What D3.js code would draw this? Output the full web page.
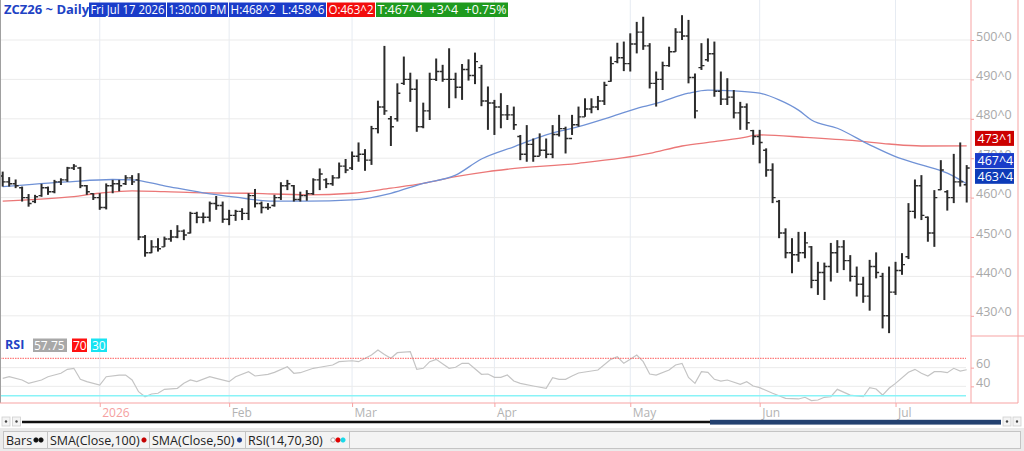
<!DOCTYPE html>
<html>
<head>
<meta charset="utf-8">
<script src="https://cdn.jsdelivr.net/npm/d3@7"></script>
<style>
  body { margin: 0; background: #fff; }
  svg { display: block; font-family: "Open Sans", "Noto Sans", sans-serif; }
</style>
</head>
<body>
<div id="chart"></div>
<script>
// ZCZ26 daily bars with SMA(100), SMA(50) and RSI(14)

const width = 1024, height = 451;

// =============================
// Data
// =============================
const holidays = ["2025-12-25", "2026-01-01", "2026-01-19", "2026-02-16",
                  "2026-04-03", "2026-05-25", "2026-06-19", "2026-07-03"];
const monthLabels = ["2026", "Feb", "Mar", "Apr", "May", "Jun", "Jul"];
const priceTicks = [430, 440, 450, 460, 470, 480, 490, 500];
const rsiTicks = [40, 60];

const opens = [
  465.5, 464.0, 463.5, 462.5, 460.0, 459.0, 460.5, 462.5, 461.5, 464.0,
  464.5, 467.5, 467.5, 463.0, 461.0, 460.0, 457.5, 463.0, 463.5, 463.5,
  465.0, 464.5, 450.0, 446.0, 447.5, 447.5, 449.5, 450.0, 451.5, 451.0,
  456.0, 455.0, 455.0, 458.5, 458.0, 454.5, 455.5, 456.5, 456.0, 460.5,
  458.5, 457.5, 458.0, 460.0, 463.0, 463.0, 459.5, 460.5, 461.0, 464.5,
  464.5, 463.5, 465.0, 468.0, 467.5, 470.5, 471.0, 469.5, 477.5, 483.0,
  480.0, 480.0, 489.0, 490.0, 487.5, 478.0, 482.0, 490.0, 492.0, 490.0,
  490.0, 488.0, 492.5, 491.0, 493.0, 484.5, 484.0, 483.0, 481.0, 481.0,
  475.5, 471.0, 473.5, 470.5, 472.0, 471.0, 476.0, 477.5, 475.0, 478.5,
  480.5, 482.5, 483.0, 484.5, 489.5, 494.5, 495.5, 494.0, 499.0, 502.0,
  498.5, 489.0, 490.0, 493.5, 497.0, 502.0, 501.0, 490.5, 493.0, 495.0,
  496.5, 487.0, 485.0, 485.5, 481.5, 483.0, 477.0, 475.5, 472.0, 467.0,
  459.0, 451.0, 446.0, 445.5, 446.0, 447.5, 439.0, 441.0, 442.5, 446.0,
  447.5, 444.0, 440.0, 438.0, 435.0, 442.5, 440.0, 430.0, 436.0, 441.5,
  445.0, 456.5, 463.0, 455.0, 451.0, 462.0, 461.5, 460.0, 464.0, 463.25
];
const highs = [
  466.6, 465.2, 464.6, 462.8, 460.9, 460.7, 463.5, 462.8, 464.5, 464.9,
  467.8, 468.5, 467.8, 463.2, 461.1, 461.1, 463.6, 464.5, 464.5, 465.7,
  465.7, 466.2, 450.5, 449.2, 449.7, 450.1, 451.8, 453.0, 451.9, 456.4,
  456.4, 456.2, 459.0, 460.4, 459.0, 456.9, 456.9, 457.3, 461.1, 462.2,
  459.0, 458.6, 460.7, 463.9, 464.5, 463.2, 461.5, 461.9, 464.9, 467.4,
  464.9, 465.7, 468.9, 469.8, 471.7, 474.0, 472.3, 478.2, 484.6, 498.5,
  480.7, 489.0, 495.8, 491.7, 490.0, 484.1, 491.7, 495.3, 493.7, 497.9,
  491.7, 493.9, 495.1, 496.8, 493.7, 488.2, 484.8, 486.5, 483.5, 483.1,
  475.9, 478.4, 475.0, 476.3, 475.0, 478.4, 481.0, 478.0, 481.0, 483.1,
  485.2, 485.2, 485.8, 489.4, 495.8, 499.3, 499.6, 501.7, 504.6, 505.9,
  499.2, 492.0, 494.5, 498.3, 503.0, 506.3, 505.1, 491.5, 499.2, 500.4,
  499.6, 492.0, 490.3, 487.3, 484.3, 483.9, 477.2, 477.2, 472.5, 468.7,
  459.4, 452.2, 449.7, 451.3, 451.3, 447.7, 443.7, 443.5, 448.5, 449.2,
  449.2, 445.4, 442.5, 439.9, 444.2, 446.1, 440.9, 442.5, 443.7, 445.9,
  458.6, 464.6, 465.7, 455.2, 461.9, 469.5, 461.9, 471.1, 474.0, 468.25
];
const lows = [
  462.8, 462.8, 462.4, 459.0, 457.7, 458.6, 460.2, 460.7, 461.1, 463.2,
  464.0, 467.0, 462.4, 460.7, 459.4, 456.9, 457.0, 461.1, 461.6, 463.2,
  463.2, 449.2, 445.0, 445.9, 446.3, 447.5, 448.8, 449.7, 449.2, 450.9,
  453.5, 453.5, 453.9, 456.9, 453.6, 453.0, 454.1, 454.3, 454.3, 457.5,
  456.0, 456.9, 457.7, 459.4, 461.9, 459.0, 459.0, 459.2, 460.7, 461.9,
  462.4, 463.0, 464.9, 466.2, 467.0, 469.1, 466.8, 468.3, 476.3, 481.0,
  473.1, 479.3, 488.6, 484.3, 476.7, 477.6, 479.7, 489.6, 489.4, 482.7,
  485.2, 484.8, 489.7, 488.8, 483.2, 477.2, 475.9, 477.6, 479.7, 477.2,
  469.5, 469.1, 469.1, 470.6, 470.0, 470.0, 475.5, 471.2, 475.9, 478.0,
  480.5, 481.4, 482.2, 483.5, 489.4, 494.1, 492.1, 492.0, 496.6, 497.5,
  487.7, 483.1, 487.3, 493.2, 497.0, 500.0, 489.0, 480.1, 492.4, 494.5,
  485.6, 483.5, 483.5, 480.1, 477.2, 477.2, 473.4, 468.7, 465.3, 458.6,
  449.7, 444.6, 440.8, 443.7, 444.6, 437.0, 435.3, 434.0, 438.7, 440.9,
  441.6, 438.7, 434.9, 433.3, 431.3, 439.5, 426.8, 425.6, 435.3, 440.4,
  444.4, 454.7, 454.3, 448.8, 447.5, 461.9, 456.7, 458.6, 462.8, 458.75
];
const closes = [
  464.0, 463.5, 463.0, 460.0, 458.5, 460.2, 462.5, 461.5, 464.0, 464.5,
  467.5, 468.0, 463.0, 461.5, 460.0, 457.5, 463.0, 463.5, 463.0, 465.0,
  464.0, 450.0, 446.0, 447.5, 447.0, 449.5, 450.0, 451.5, 450.5, 456.0,
  455.0, 455.0, 458.5, 458.0, 454.5, 455.5, 456.5, 456.0, 460.5, 458.5,
  457.5, 457.5, 460.0, 463.0, 463.5, 459.5, 460.5, 461.0, 464.5, 466.0,
  463.5, 465.0, 468.0, 467.0, 470.5, 471.0, 469.5, 477.5, 483.0, 482.0,
  478.0, 486.5, 490.0, 487.5, 478.0, 482.0, 490.0, 492.0, 490.0, 490.0,
  488.0, 492.5, 491.0, 494.5, 484.5, 484.0, 483.0, 481.0, 481.0, 478.5,
  471.0, 473.5, 470.5, 472.0, 471.0, 476.0, 477.5, 475.0, 478.5, 480.5,
  482.5, 483.0, 484.5, 488.5, 494.0, 495.5, 494.0, 499.0, 502.0, 498.5,
  489.0, 490.0, 493.5, 497.0, 502.0, 501.0, 490.5, 482.0, 493.5, 496.5,
  487.0, 485.0, 485.5, 481.5, 483.0, 479.0, 475.5, 474.0, 467.0, 460.0,
  451.0, 446.0, 445.5, 446.0, 448.5, 439.0, 441.0, 442.5, 446.0, 447.5,
  444.0, 440.0, 438.0, 435.0, 442.5, 441.0, 430.0, 436.0, 441.5, 443.0,
  456.5, 463.0, 455.5, 451.0, 460.0, 467.0, 460.0, 464.0, 464.0, 467.5
];

// moving averages at these bar positions
const sma50Bars = [0, 10, 17, 20, 25, 31, 36, 42, 47, 54, 60, 65, 70, 74, 79, 84, 89,
                   94, 99, 101, 106, 109, 113, 117, 120, 123, 125, 129, 134, 138, 142, 146, 149];
const sma50Vals = [462.8, 464.0, 464.6, 464.5, 463.0, 461.2, 460.1, 459.1, 459.1, 459.4,
                   461.1, 463.6, 465.7, 469.8, 472.9, 475.9, 478.0, 480.5, 483.1, 483.9,
                   486.5, 487.3, 487.1, 486.5, 484.8, 482.2, 479.7, 477.6, 473.4, 470.4,
                   468.3, 466.2, 463.5];
const sma100Bars = [0, 10, 15, 20, 25, 31, 38, 47, 54, 60, 65, 70, 75, 78, 89, 100,
                    105, 110, 114, 117, 124, 132, 137, 142, 149];
const sma100Vals = [459.1, 460.1, 461.1, 461.7, 461.5, 461.2, 461.1, 460.7, 461.1, 462.4,
                    463.6, 465.3, 466.6, 467.2, 468.7, 471.2, 473.1, 474.2, 475.1, 475.9,
                    475.3, 474.4, 473.6, 473.1, 473.125];

// RSI(14)
const rsiBars = [0, 1, 3, 4, 6, 7, 9, 10, 11, 12, 13, 15, 16, 18, 19, 20, 21, 22, 23, 24,
                 25, 27, 28, 29, 30, 32, 33, 35, 36, 38, 39, 41, 42, 44, 45, 46, 48, 49, 51, 52,
                 54, 55, 57, 58, 59, 60, 61, 63, 64, 65, 66, 67, 69, 70, 71, 72, 74, 75, 76, 77,
                 78, 79, 80, 82, 84, 85, 86, 87, 88, 89, 91, 92, 94, 95, 96, 97, 98, 99, 100, 101,
                 103, 104, 105, 106, 107, 108, 109, 110, 111, 112, 114, 115, 116, 117, 119, 121, 123, 124, 125, 126,
                 127, 128, 129, 131, 133, 134, 135, 136, 137, 138, 140, 141, 142, 143, 144, 145, 146, 147, 148, 149];
const rsiVals = [48.6, 50.3, 46.8, 43.3, 46.8, 50.3, 54.0, 58.2, 59.3, 47.5, 45.0, 41.4, 50.3, 52.1, 52.1, 46.8, 34.3, 28.9, 31.8, 32.6,
                 36.8, 37.9, 43.3, 46.8, 45.0, 50.3, 48.6, 45.0, 50.3, 55.7, 51.1, 52.9, 55.0, 61.0, 54.0, 54.6, 59.3, 60.4, 62.8, 66.4,
                 67.4, 66.4, 73.5, 78.9, 74.0, 70.0, 76.0, 77.0, 58.2, 59.3, 66.4, 68.9, 59.3, 60.4, 64.6, 64.6, 52.9, 53.2, 49.7, 49.7,
                 52.1, 45.7, 43.2, 40.4, 37.9, 49.3, 47.5, 47.5, 51.1, 54.3, 56.4, 57.5, 68.9, 71.7, 64.6, 68.9, 73.5, 66.4, 53.2, 52.1,
                 57.5, 62.8, 64.6, 49.5, 43.2, 55.7, 55.0, 47.5, 45.7, 46.8, 42.2, 45.0, 40.4, 38.6, 32.6, 27.2, 26.5, 28.3, 24.7, 25.4,
                 28.3, 28.9, 36.8, 30.7, 28.9, 38.6, 37.2, 30.7, 37.9, 43.2, 55.0, 58.2, 54.0, 51.1, 55.7, 55.7, 54.6, 59.3, 56.4, 57.75];

// =============================
// Colours
// =============================
const axisRed = "#f7a3a3";
const gridColour = "#ebebeb";
const vGridColour = "#e6ebf2";
const barColour = "#2b2b2b";
const sma50Colour = "#7092d6";
const sma100Colour = "#eb7777";
const rsiColour = "#c4c4c4";
const blueBox = "#1a3cc9";

// =============================
// Trading days (weekdays minus exchange holidays)
// =============================
const fmtDay = d3.timeFormat("%Y-%m-%d");
const days = d3.timeDay.range(new Date(2025, 11, 10), new Date(2026, 6, 18))
    .filter(d => d.getDay() !== 0 && d.getDay() !== 6 && !holidays.includes(fmtDay(d)))
    .map(fmtDay);

const bars = days.map((d, i) => ({ date: d, o: opens[i], h: highs[i], l: lows[i], c: closes[i] }));

// first trading day of each month after December
const monthStarts = days.filter((d, i) => i > 0 && d.slice(5, 7) !== days[i - 1].slice(5, 7));

// =============================
// Scales
// =============================
const plotRight = 971;
const xScale = d3.scalePoint().domain(days).range([2.7, 966.7]);
const yPrice = d3.scaleLinear().domain([430, 500]).range([315.8, 40]);
const yRsi = d3.scaleLinear().domain([30, 70]).range([395.7, 358.3]);

const fmt8 = v => {
    const w = Math.floor(v + 1e-9);
    return w + "^" + Math.round((v - w) * 8);
};

const svg = d3.select("#chart")
    .append("svg")
    .attr("width", width)
    .attr("height", height);

svg.append("defs").append("clipPath").attr("id", "plot")
    .append("rect").attr("x", 0).attr("y", 0).attr("width", plotRight).attr("height", 403);

// =============================
// Grid
// =============================
svg.append("g")
    .selectAll("line")
    .data(monthStarts)
    .join("line")
        .attr("x1", d => xScale(d)).attr("x2", d => xScale(d))
        .attr("y1", 0).attr("y2", 403)
        .attr("stroke", vGridColour);

svg.append("g")
    .selectAll("line")
    .data(priceTicks)
    .join("line")
        .attr("x1", 0).attr("x2", plotRight)
        .attr("y1", d => yPrice(d)).attr("y2", d => yPrice(d))
        .attr("stroke", gridColour);

svg.append("g")
    .selectAll("line")
    .data(rsiTicks)
    .join("line")
        .attr("x1", 0).attr("x2", 966)
        .attr("y1", d => yRsi(d)).attr("y2", d => yRsi(d))
        .attr("stroke", gridColour);

// =============================
// Moving averages
// =============================
const plot = svg.append("g").attr("clip-path", "url(#plot)");

const maLine = d3.line()
    .x(d => xScale(days[d[0]]))
    .y(d => yPrice(d[1]))
    .curve(d3.curveMonotoneX);

plot.append("path")
    .attr("d", maLine(d3.zip(sma100Bars, sma100Vals)))
    .attr("fill", "none")
    .attr("stroke", sma100Colour)
    .attr("stroke-width", 1.3);

plot.append("path")
    .attr("d", maLine(d3.zip(sma50Bars, sma50Vals)))
    .attr("fill", "none")
    .attr("stroke", sma50Colour)
    .attr("stroke-width", 1.3);

// =============================
// OHLC bars
// =============================
plot.append("g")
    .selectAll("line")
    .data(bars)
    .join("line")
        .attr("x1", d => xScale(d.date)).attr("x2", d => xScale(d.date))
        .attr("y1", d => yPrice(d.h)).attr("y2", d => yPrice(d.l))
        .attr("stroke", barColour)
        .attr("stroke-width", 2);

plot.append("path")
    .attr("d", bars.map(d => {
        const x = xScale(d.date);
        return `M${x - 3},${yPrice(d.o)}H${x}M${x},${yPrice(d.c)}H${x + 3}`;
    }).join(""))
    .attr("stroke", barColour)
    .attr("stroke-width", 1.4);

// =============================
// RSI panel
// =============================
svg.append("line")
    .attr("x1", 0).attr("x2", 966)
    .attr("y1", yRsi(70)).attr("y2", yRsi(70))
    .attr("stroke", "#ff5a5a")
    .attr("stroke-dasharray", "1.5,1");

svg.append("line")
    .attr("x1", 0).attr("x2", 966)
    .attr("y1", yRsi(30)).attr("y2", yRsi(30))
    .attr("stroke", "#8af3f7")
    .attr("stroke-width", 1.6);

plot.append("path")
    .attr("d", d3.line()
        .x(d => xScale(days[d[0]]))
        .y(d => yRsi(d[1]))(d3.zip(rsiBars, rsiVals)))
    .attr("fill", "none")
    .attr("stroke", rsiColour)
    .attr("stroke-width", 1.2);

// =============================
// Frame and axes
// =============================
svg.append("line").attr("x1", 0.5).attr("x2", 0.5).attr("y1", 0).attr("y2", 403)
    .attr("stroke", "#a0a0a0");
svg.append("line").attr("x1", plotRight).attr("x2", plotRight).attr("y1", 0).attr("y2", 403)
    .attr("stroke", axisRed);
svg.append("line").attr("x1", 1018).attr("x2", 1018).attr("y1", 0).attr("y2", 403)
    .attr("stroke", axisRed);
svg.append("line").attr("x1", plotRight).attr("x2", 1024).attr("y1", 336).attr("y2", 336)
    .attr("stroke", axisRed);

const styleAxis = (g, fill) => {
    g.attr("font-size", null).attr("font-family", null);
    g.select(".domain").remove();
    g.selectAll(".tick line").attr("stroke", axisRed);
    g.selectAll(".tick text").style("font-size", "12.5px").attr("fill", fill);
};

svg.append("g")
    .attr("transform", `translate(${plotRight},0)`)
    .call(d3.axisRight(yPrice).tickValues(priceTicks).tickSize(3).tickFormat(v => v + "^0"))
    .call(g => styleAxis(g, "#a9a9a9"))
    .call(g => g.selectAll(".tick text").attr("x", 5).attr("dy", 0));

svg.append("g")
    .attr("transform", `translate(${plotRight},0)`)
    .call(d3.axisRight(yRsi).tickValues(rsiTicks).tickSize(3))
    .call(g => styleAxis(g, "#a9a9a9"))
    .call(g => g.selectAll(".tick text").attr("x", 5).attr("dy", 0));

svg.append("line").attr("x1", 0).attr("x2", 1018).attr("y1", 403).attr("y2", 403)
    .attr("stroke", axisRed);

svg.append("g")
    .attr("transform", "translate(0,403)")
    .call(d3.axisBottom(xScale).tickValues(monthStarts).tickSize(4)
        .tickFormat((d, i) => monthLabels[i]))
    .call(g => styleAxis(g, "#b3b3b3"))
    .call(g => g.selectAll(".tick text")
        .attr("text-anchor", "start").attr("x", 2).attr("y", 5)
        .style("font-size", "12px")
        .attr("fill", (d, i) => i === 0 ? "#f5a0a0" : "#b3b3b3"));

// =============================
// Last value labels
// =============================
const lastIdx = bars.length - 1;
const valueLabels = [
    { v: sma100Vals[sma100Vals.length - 1], fill: "#cc0000" },
    { v: closes[lastIdx], fill: blueBox },
    { v: sma50Vals[sma50Vals.length - 1], fill: "#0d3bb8" }
];
const vl = svg.append("g").selectAll("g").data(valueLabels).join("g")
    .attr("transform", d => `translate(975,${yPrice(d.v)})`);
vl.append("rect")
    .attr("x", 0).attr("y", -15).attr("width", 39).attr("height", 15)
    .attr("fill", d => d.fill);
vl.append("text")
    .attr("x", 2.5).attr("y", -3)
    .attr("fill", "#fff")
    .style("font-size", "12.5px")
    .text(d => fmt8(d.v));

// =============================
// Header
// =============================
const last = bars[lastIdx];
const change = last.c - closes[lastIdx - 1];
const header = svg.append("g");
header.append("text")
    .attr("x", 4).attr("y", 14)
    .attr("fill", "#2142c4")
    .style("font-size", "13px").style("font-weight", "bold")
    .text("ZCZ26 ~ Daily");

const headerBoxes = [
    { x: 89, w: 77, fill: blueBox, text: "Fri Jul 17 2026" },
    { x: 167, w: 61, fill: blueBox, text: "1:30:00 PM" },
    { x: 229, w: 97, fill: blueBox, text: `H:${fmt8(last.h)}  L:${fmt8(last.l)}` },
    { x: 327, w: 48, fill: "#f20d0d", text: `O:${fmt8(last.o)}` },
    { x: 376, w: 132, fill: "#1f9a1f",
      text: `T:${fmt8(last.c)}  +${fmt8(change)}  +${(change / closes[lastIdx - 1] * 100).toFixed(2)}%` }
];
const hb = header.selectAll("g").data(headerBoxes).join("g");
hb.append("rect")
    .attr("x", d => d.x).attr("y", 2.5).attr("width", d => d.w).attr("height", 14.5)
    .attr("fill", d => d.fill);
hb.append("text")
    .attr("x", d => d.x + 1.5).attr("y", 14)
    .attr("fill", "#fff")
    .style("font-size", "12.5px")
    .style("white-space", "pre")
    .attr("textLength", d => d.w - 3)
    .attr("lengthAdjust", "spacingAndGlyphs")
    .text(d => d.text);

// RSI caption
const rsiHead = svg.append("g");
rsiHead.append("text").attr("x", 5).attr("y", 349)
    .attr("fill", "#2142c4").style("font-size", "12.5px").style("font-weight", "bold")
    .text("RSI");
const rsiBoxes = [
    { x: 33, w: 34, fill: "#a8a8a8", text: rsiVals[rsiVals.length - 1].toFixed(2) },
    { x: 72, w: 15, fill: "#ff1010", text: "70" },
    { x: 91, w: 16, fill: "#19e3f2", text: "30" }
];
const rb = rsiHead.selectAll("g").data(rsiBoxes).join("g");
rb.append("rect").attr("x", d => d.x).attr("y", 338.5).attr("width", d => d.w).attr("height", 13.5)
    .attr("fill", d => d.fill);
rb.append("text").attr("x", d => d.x + 1).attr("y", 349.5)
    .attr("fill", "#fff").style("font-size", "12px")
    .text(d => d.text);

// =============================
// Scroll bar
// =============================
const scroll = svg.append("g");
[2, 12.5, 1003, 1013].forEach(x => {
    scroll.append("rect").attr("x", x).attr("y", 417).attr("width", 8).attr("height", 9)
        .attr("fill", "#f4f4f4").attr("stroke", "#cfcfcf").attr("stroke-width", 0.8);
    scroll.append("circle").attr("cx", x + 4).attr("cy", 421.5).attr("r", 1.2).attr("fill", "#444");
});
scroll.append("line").attr("x1", 22).attr("x2", 712).attr("y1", 422).attr("y2", 422)
    .attr("stroke", "#111").attr("stroke-width", 2.4);
scroll.append("rect").attr("x", 710).attr("y", 419.8).attr("width", 291).attr("height", 4.8)
    .attr("fill", "#234170");

// =============================
// Legend bar
// =============================
const legend = svg.append("g");
legend.append("rect").attr("x", 0).attr("y", 428).attr("width", width).attr("height", 23)
    .attr("fill", "#ebebeb");
legend.append("rect").attr("x", 3.5).attr("y", 431.5).attr("width", 1017).attr("height", 17)
    .attr("fill", "#f3f3f3").attr("stroke", "#c4c4c4");

const tabs = [
    { x: 6, end: 47, text: "Bars", dots: [[36, "#111", "#111"], [41, "#111", "#111"]] },
    { x: 50, end: 149, text: "SMA(Close,100)", dots: [[144, "#c40000", "#c40000"]] },
    { x: 152, end: 245, text: "SMA(Close,50)", dots: [[239.5, "#1a3a8c", "#1a3a8c"]] },
    { x: 248, end: 349, text: "RSI(14,70,30)", dots: [[333, "#fff", "#999"], [338, "#e00000", "#e00000"], [343, "#19d8e8", "#19d8e8"]] }
];
tabs.forEach(t => {
    legend.append("line").attr("x1", t.end + 0.5).attr("x2", t.end + 0.5).attr("y1", 431.5).attr("y2", 448.5)
        .attr("stroke", "#c4c4c4");
    legend.append("text").attr("x", t.x).attr("y", 444.5)
        .attr("fill", "#222").style("font-size", "12.5px")
        .text(t.text);
    t.dots.forEach(([cx, fill, stroke]) => {
        legend.append("circle").attr("cx", cx).attr("cy", 440).attr("r", 2.2)
            .attr("fill", fill).attr("stroke", stroke).attr("stroke-width", 0.8);
    });
});
</script>
</body>
</html>
